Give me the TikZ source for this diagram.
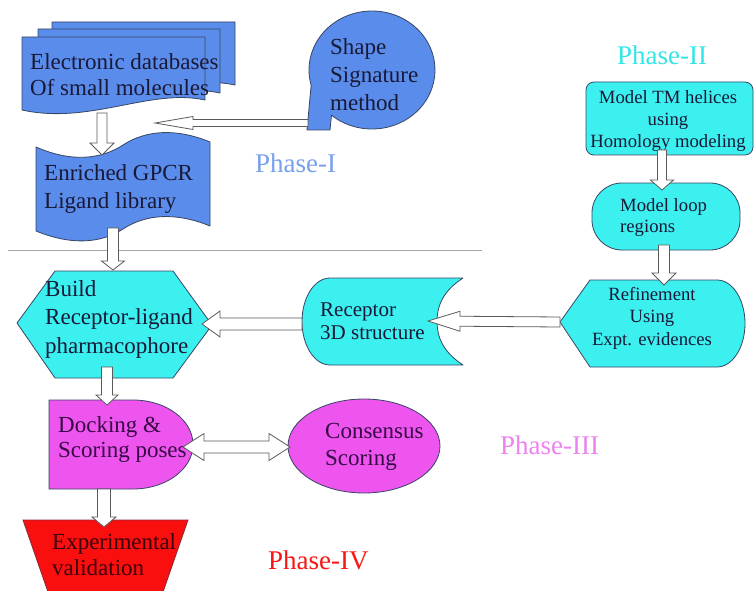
\documentclass[tikz,border=0pt]{standalone}
\usepackage{fontspec}
\setmainfont{Liberation Serif}
\usetikzlibrary{calc}
\definecolor{bluefill}{RGB}{90,140,235}
\definecolor{cyanfill}{RGB}{60,240,240}
\definecolor{magfill}{RGB}{238,85,238}
\definecolor{redfill}{RGB}{250,15,15}
\definecolor{edge}{RGB}{55,70,100}
\definecolor{txt}{RGB}{25,25,55}
\definecolor{txtmag}{RGB}{55,10,70}
\definecolor{txtred}{RGB}{60,0,10}
\definecolor{phaseone}{RGB}{120,160,238}
\definecolor{phasetwo}{RGB}{50,230,230}
\definecolor{phasethree}{RGB}{238,130,238}
\definecolor{phasefour}{RGB}{250,20,20}
\definecolor{arrowedge}{RGB}{90,90,90}
\newcommand\fA{\fontsize{23}{28}\selectfont}
\newcommand\fB{\fontsize{18.7}{22}\selectfont}
\newcommand\fP{\fontsize{27}{30}\selectfont}
\newcommand\myarrow[5]{%
 \coordinate (tmpH) at ($(#2)!#5!(#1)$);
 \draw[blockarr] ($(#1)!#3!90:(#2)$) -- ($(tmpH)!#3!90:(#2)$) -- ($(tmpH)!#4!90:(#2)$) -- (#2) -- ($(tmpH)!#4!-90:(#2)$) -- ($(tmpH)!#3!-90:(#2)$) -- ($(#1)!#3!-90:(#2)$) -- cycle;}
\newcommand\mydarrow[5]{%
 \coordinate (tmpL) at ($(#1)!#5!(#2)$);
 \coordinate (tmpR) at ($(#2)!#5!(#1)$);
 \draw[blockarr] (#1) -- ($(tmpL)!#4!90:(#2)$) -- ($(tmpL)!#3!90:(#2)$) -- ($(tmpR)!#3!-90:(#1)$) -- ($(tmpR)!#4!-90:(#1)$) -- (#2) -- ($(tmpR)!#4!90:(#1)$) -- ($(tmpR)!#3!90:(#1)$) -- ($(tmpL)!#3!-90:(#2)$) -- ($(tmpL)!#4!-90:(#2)$) -- cycle;}
\begin{document}
\begin{tikzpicture}[x=1pt,y=-1pt,
  shapeline/.style={draw=edge,line width=0.8pt,line join=round},
  blueshape/.style={shapeline,fill=bluefill},
  cyanshape/.style={shapeline,fill=cyanfill},
  magshape/.style={shapeline,fill=magfill},
  redshape/.style={fill=redfill},
  blockarr/.style={draw=arrowedge,fill=white,line width=0.8pt,line join=miter},
  lbl/.style={inner sep=0pt,align=left,text=txt},
  phase/.style={inner sep=0pt,font=\fP}]
\useasboundingbox (0,0) rectangle (755,591);
\fill[white] (0,0) rectangle (755,591);
% separator
\draw[gray!70,line width=0.9pt] (8,250) -- (482,250);

% ---- Phase I ----
% document stack
\draw[blueshape] (52,22) -- (235,22) -- (235,85) .. controls (180,73) and (120,110) .. (52,95) -- cycle;
\draw[blueshape] (38,29) -- (220,29) -- (220,93) .. controls (165,81) and (105,118) .. (38,103) -- cycle;
\draw[blueshape] (22,37) -- (205,37) -- (205,100) .. controls (150,88) and (90,125) .. (22,110) -- cycle;
\node[lbl,anchor=west,font=\fontsize{23}{26}\selectfont] (docs) at (30,75) {Electronic databases\\Of small molecules};
\coordinate (docsout) at (102,113);

% shape signature (sequential storage)
\draw[blueshape] (307,130) -- (330,130) -- (331.5,115.2) arc[start angle=130,end angle=-195,x radius=63,y radius=59] -- cycle;
\node[lbl,anchor=west,font=\fA] (sig) at (330,75) {Shape\\Signature\\method};
\coordinate (sigout) at (308,123);
\coordinate (sigin) at (155,123);

% enriched library (punched tape)
\draw[blueshape] (36,147) .. controls (70,162) and (100,160) .. (123,145) .. controls (146,130) and (176,128) .. (210,142)
  -- (210,226) .. controls (176,212) and (146,214) .. (123,229) .. controls (100,244) and (70,245) .. (36,231) -- cycle;
\node[lbl,anchor=west,font=\fA] (lib) at (44,189) {Enriched GPCR\\Ligand library};
\coordinate (libin) at (102,155);
\coordinate (libout) at (113,228);

% ---- Phase II ----
\draw[cyanshape,rounded corners=8pt] (586,82) rectangle (753,155);
\node[lbl,align=center,font=\fB] (tm) at (668,121) {Model TM helices\\using\\Homology modeling};
\coordinate (tmout) at (662,150);

\draw[cyanshape,rounded corners=30pt] (592,183) rectangle (740,250);
\node[lbl,anchor=west,font=\fontsize{18.7}{21}\selectfont] (loop) at (620,217.5) {Model loop\\regions};
\coordinate (loopin) at (662,190);
\coordinate (loopout) at (664,245);

% refinement (display)
\draw[cyanshape] (560,322) -- (590,280) -- (717,280) arc[start angle=-90,end angle=90,x radius=28,y radius=43.5] -- (590,367) -- cycle;
\node[lbl,align=center,font=\fontsize{18.7}{22.5}\selectfont] (ref) at (652,318) {Refinement\\Using\\Expt. evidences};
\coordinate (refin) at (664,285);
\coordinate (refout) at (560,322);

% receptor (stored data)
\draw[cyanshape] (463,278) -- (330,278) arc[start angle=-90,end angle=-270,x radius=28,y radius=43.5] -- (463,365)
  .. controls (443,352) and (437,337) .. (437,321.5) .. controls (437,306) and (443,291) .. (463,278) -- cycle;
\node[lbl,anchor=west,font=\fontsize{21}{23}\selectfont] (rec) at (320,321.5) {Receptor\\3D structure};
\coordinate (recin) at (428,321);
\coordinate (recout) at (302,324);

% build (hexagon)
\draw[cyanshape] (17,323) -- (55,271) -- (173,271) -- (212,325) -- (173,378) -- (55,378) -- cycle;
\node[lbl,anchor=west,font=\fontsize{23}{28.5}\selectfont] (build) at (45,319) {Build\\Receptor-ligand\\pharmacophore};
\coordinate (buildin) at (113,270);
\coordinate (buildright) at (202,324);
\coordinate (buildout) at (107,367);

% ---- Phase III ----
\draw[magshape] (49,400) -- (133,400) arc[start angle=-90,end angle=90,x radius=60,y radius=44.5] -- (49,489) -- cycle;
\node[lbl,anchor=west,text=txtmag,font=\fontsize{23}{25}\selectfont] (dock) at (58,439.5) {Docking \&\\Scoring poses};
\coordinate (dockin) at (107,405);
\coordinate (dockright) at (183,447);
\coordinate (dockout) at (104,489);

\draw[magshape] (364,446) ellipse[x radius=76,y radius=47];
\node[lbl,anchor=west,text=txtmag,font=\fontsize{23}{27}\selectfont] (cons) at (325,446.5) {Consensus\\Scoring};
\coordinate (consleft) at (290,447);

% ---- Phase IV ----
\fill[redshape] (23,520) -- (188,520) -- (163,592) -- (48,592) -- cycle;
\draw[draw=edge!60!red,line width=0.8pt] (48,592) -- (23,520) -- (188,520) -- (163,592);
\node[lbl,anchor=west,text=txtred,font=\fontsize{23}{26}\selectfont] (exp) at (52,555) {Experimental\\validation};
\coordinate (expin) at (104,527);

% ---- phase labels ----
\node[phase,text=phaseone,anchor=west] (p1) at (255,163) {Phase-I};
\node[phase,text=phasetwo,anchor=west] (p2) at (617,55) {Phase-II};
\node[phase,text=phasethree,anchor=west] (p3) at (500,445) {Phase-III};
\node[phase,text=phasefour,anchor=west] (p4) at (268,560) {Phase-IV};

% ---- block arrows ----
\myarrow{sigout}{sigin}{3.5pt}{6.5pt}{38pt}
\myarrow{docsout}{libin}{5pt}{12pt}{12pt}
\myarrow{libout}{buildin}{5.5pt}{11.5pt}{9pt}
\myarrow{recout}{buildright}{6pt}{13pt}{18pt}
\myarrow{refout}{recin}{5pt}{10pt}{32pt}
\myarrow{tmout}{loopin}{4.5pt}{11.5pt}{10pt}
\myarrow{loopout}{refin}{5.5pt}{12pt}{12pt}
\myarrow{buildout}{dockin}{5.5pt}{11pt}{10pt}
\mydarrow{dockright}{consleft}{6pt}{13.5pt}{21pt}
\myarrow{dockout}{expin}{6.5pt}{12pt}{10pt}
\end{tikzpicture}
\end{document}
